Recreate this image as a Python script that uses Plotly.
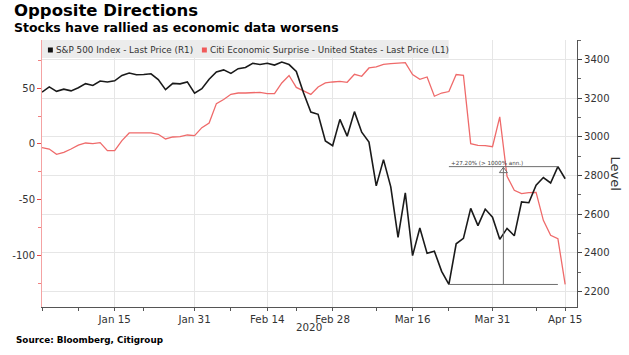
import plotly.graph_objects as go

# ---------------- data ----------------
dates = [
    "2019-12-31",
    "2020-01-02", "2020-01-03", "2020-01-06", "2020-01-07", "2020-01-08", "2020-01-09", "2020-01-10",
    "2020-01-13", "2020-01-14", "2020-01-15", "2020-01-16", "2020-01-17", "2020-01-21", "2020-01-22",
    "2020-01-23", "2020-01-24", "2020-01-27", "2020-01-28", "2020-01-29", "2020-01-30", "2020-01-31",
    "2020-02-03", "2020-02-04", "2020-02-05", "2020-02-06", "2020-02-07", "2020-02-10", "2020-02-11",
    "2020-02-12", "2020-02-13", "2020-02-14", "2020-02-18", "2020-02-19", "2020-02-20", "2020-02-21",
    "2020-02-24", "2020-02-25", "2020-02-26", "2020-02-27", "2020-02-28",
    "2020-03-02", "2020-03-03", "2020-03-04", "2020-03-05", "2020-03-06", "2020-03-09", "2020-03-10",
    "2020-03-11", "2020-03-12", "2020-03-13", "2020-03-16", "2020-03-17", "2020-03-18", "2020-03-19",
    "2020-03-20", "2020-03-23", "2020-03-24", "2020-03-25", "2020-03-26", "2020-03-27", "2020-03-30",
    "2020-03-31",
    "2020-04-01", "2020-04-02", "2020-04-03", "2020-04-06", "2020-04-07", "2020-04-08", "2020-04-09",
    "2020-04-13", "2020-04-14", "2020-04-15",
]

spx = [
    3230.8,
    3257.9, 3234.9, 3246.3, 3237.2, 3253.1, 3274.7, 3265.4,
    3288.1, 3283.2, 3289.3, 3316.8, 3329.6, 3320.8, 3321.8,
    3325.5, 3295.5, 3243.6, 3276.2, 3273.4, 3283.7, 3225.5,
    3248.9, 3297.6, 3334.7, 3345.8, 3327.7, 3352.1, 3357.8,
    3379.5, 3373.9, 3380.2, 3370.3, 3386.2, 3373.2, 3337.8,
    3225.9, 3128.2, 3116.4, 2978.8, 2954.2,
    3090.2, 3003.4, 3130.1, 3023.9, 2972.4, 2746.6, 2882.2,
    2741.4, 2480.6, 2711.0, 2386.1, 2529.2, 2398.1, 2409.4,
    2304.9, 2237.4, 2447.3, 2475.6, 2630.1, 2541.5, 2626.7,
    2584.6,
    2470.5, 2526.9, 2488.7, 2663.7, 2659.4, 2750.0, 2789.8,
    2761.6, 2846.0, 2783.4,
]

citi = [
    -3.3,
    -4.5, -9.3, -7.5, -4.5, -1.0, 0.9, 0.3,
    1.2, -6.0, -6.0, 3.0, 9.9, 9.9, 9.6,
    9.9, 8.7, 4.5, 6.3, 6.6, 8.1, 7.5,
    14.7, 18.9, 36.3, 39.9, 44.6, 45.8, 45.8,
    45.8, 46.4, 45.2, 45.2, 54.8, 61.5, 50.8,
    47.5, 44.6, 51.2, 54.8, 55.7,
    56.3, 55.4, 62.6, 60.8, 68.3, 69.2, 71.6,
    72.2, 72.8, 73.1, 62.4, 58.1, 60.2, 42.9,
    45.8, 47.1, 62.4, 61.7, 0.3, -1.2, -1.5,
    -2.4,
    24.3, -29.0, -41.6, -44.6, -43.7, -43.4, -68.6,
    -82.0, -85.0, -126.0,
]

tick_dates = ["2020-01-15", "2020-01-31", "2020-02-14", "2020-02-28",
              "2020-03-16", "2020-03-31", "2020-04-15"]
tick_labels = ["Jan 15", "Jan 31", "Feb 14", "Feb 28", "Mar 16", "Mar 31", "Apr 15"]
minor_tick_dates = ["2019-12-31", "2020-01-08", "2020-01-22", "2020-02-07",
                    "2020-02-21", "2020-03-09", "2020-03-23", "2020-04-08"]

spx_name = "S&P 500 Index - Last Price (R1)"
citi_name = "Citi Economic Surprise - United States - Last Price (L1)"

# ---------------- layout constants ----------------
W, H = 629, 355
ML, MR, MT, MB = 35, 52, 40, 48
PW, PH = W - ML - MR, H - MT - MB


def px_x(p):
    return (p - ML) / PW


def px_y(p):
    return (H - MB - p) / PH


FONT = "DejaVu Sans"
BLACK = "#1a1a1a"
RED = "#ef6a6a"
GRID = "#e6e6e6"

x = list(range(len(dates)))
major_x = [dates.index(d) for d in tick_dates]
minor_x = [dates.index(d) for d in minor_tick_dates]

fig = go.Figure()
fig.add_trace(go.Scatter(x=x, y=citi, mode="lines", name=citi_name,
                         line=dict(color=RED, width=1.3), yaxis="y",
                         showlegend=False, hoverinfo="skip"))
fig.add_trace(go.Scatter(x=x, y=spx, mode="lines", name=spx_name,
                         line=dict(color=BLACK, width=1.6), yaxis="y2",
                         showlegend=False, hoverinfo="skip"))

# --- rally annotation (computed from data) ---
i_lo = spx.index(min(spx))
i_hi = max(range(i_lo, len(spx)), key=lambda i: spx[i])
lo, hi = spx[i_lo], spx[i_hi]
pct = (hi / lo - 1) * 100
x_mid = (i_lo + i_hi) / 2 + 0.0
ann_col = "#6e6e6e"
for (xa, ya, xb, yb) in [(i_lo, lo, i_hi, lo), (i_lo, hi, i_hi, hi), (x_mid, lo, x_mid, hi)]:
    fig.add_shape(type="line", xref="x", yref="y2", x0=xa, y0=ya, x1=xb, y1=yb,
                  line=dict(color=ann_col, width=1))
fig.add_trace(go.Scatter(x=[x_mid], y=[hi - 22], mode="markers", yaxis="y2",
                         marker=dict(symbol="triangle-up", size=7, color="white",
                                     line=dict(color=ann_col, width=1)),
                         showlegend=False, hoverinfo="skip"))
fig.add_annotation(x=i_lo, y=hi, xref="x", yref="y2", xanchor="left", yanchor="bottom",
                   text=f"+{pct:.2f}% (> 1000% ann.)", showarrow=False,
                   font=dict(family=FONT, size=5.6, color="#444"), yshift=-1)

# --- custom legend ---
fig.add_shape(type="rect", xref="paper", yref="paper", layer="above",
              x0=px_x(35), x1=px_x(447), y0=px_y(58), y1=px_y(40),
              fillcolor="#ececec", line=dict(width=0))
fig.add_shape(type="rect", xref="paper", yref="paper", layer="above",
              x0=px_x(41), x1=px_x(46), y0=px_y(52.5), y1=px_y(47.5),
              fillcolor="#111111", line=dict(width=0))
fig.add_shape(type="rect", xref="paper", yref="paper", layer="above",
              x0=px_x(197), x1=px_x(202), y0=px_y(52.5), y1=px_y(47.5),
              fillcolor="#f05a5a", line=dict(width=0))
for tx, txt in [(47.5, spx_name), (203.5, citi_name)]:
    fig.add_annotation(x=px_x(tx), y=px_y(50), xref="paper", yref="paper",
                       xanchor="left", yanchor="middle", text=txt, showarrow=False,
                       font=dict(family=FONT, size=8.8, color="#333"))

# --- titles / labels ---
fig.add_annotation(x=px_x(5), y=px_y(11), xref="paper", yref="paper", xanchor="left",
                   yanchor="middle", text="<b>Opposite Directions</b>", showarrow=False,
                   font=dict(family=FONT, size=16.5, color="#000"))
fig.add_annotation(x=px_x(5), y=px_y(28), xref="paper", yref="paper", xanchor="left",
                   yanchor="middle", text="<b>Stocks have rallied as economic data worsens</b>",
                   showarrow=False, font=dict(family=FONT, size=12.5, color="#000"))
fig.add_annotation(x=px_x(7), y=px_y(340), xref="paper", yref="paper", xanchor="left",
                   yanchor="middle", text="<b>Source: Bloomberg, Citigroup</b>",
                   showarrow=False, font=dict(family=FONT, size=8.8, color="#000"))
fig.add_annotation(x=px_x(617), y=px_y(174), xref="paper", yref="paper", xanchor="center",
                   yanchor="middle", text="Level", textangle=90, showarrow=False,
                   font=dict(family=FONT, size=13, color="#333"))
fig.add_annotation(x=px_x(305.5), y=px_y(327), xref="paper", yref="paper", xanchor="center",
                   yanchor="middle", text="2020", showarrow=False,
                   font=dict(family=FONT, size=10.3, color="#333"))

fig.update_layout(
    width=W, height=H,
    margin=dict(l=ML, r=MR, t=MT, b=MB),
    paper_bgcolor="white", plot_bgcolor="white",
    showlegend=False,
    font=dict(family=FONT, color="#333"),
    xaxis=dict(
        range=[0, 73.63], tickmode="array", tickvals=major_x, ticktext=tick_labels,
        showgrid=True, gridcolor=GRID, gridwidth=1, zeroline=False,
        showline=True, linecolor="#555", linewidth=1,
        ticks="outside", ticklen=3, tickcolor="#555",
        tickfont=dict(family=FONT, size=10.3, color="#333"),
        minor=dict(tickmode="array", tickvals=minor_x, ticks="outside", ticklen=3,
                   tickcolor="#555", showgrid=False),
        fixedrange=True,
    ),
    yaxis=dict(
        range=[-146.4, 93.4], tickmode="array", tickvals=[-100, -50, 0, 50],
        ticktext=["-100", "-50", "0", "50"],
        showgrid=False, zeroline=False,
        showline=True, linecolor="#f4a3a3", linewidth=1,
        ticks="outside", ticklen=4, tickcolor="#e84c4c",
        tickfont=dict(family=FONT, size=10, color="#333"),
        minor=dict(dtick=25, tick0=0, ticks="outside", ticklen=3, tickcolor="#f08080",
                   showgrid=False),
        fixedrange=True,
    ),
    yaxis2=dict(
        range=[2121, 3500], overlaying="y", side="right",
        tick0=2200, dtick=200,
        showgrid=True, gridcolor=GRID, gridwidth=1, zeroline=False,
        showline=True, linecolor="#555", linewidth=1.2,
        ticks="outside", ticklen=4, tickcolor="#444",
        tickfont=dict(family=FONT, size=10, color="#333"),
        minor=dict(dtick=100, tick0=2200, ticks="outside", ticklen=3, tickcolor="#666",
                   showgrid=False),
        fixedrange=True,
    ),
)

fig.write_html(
    "out.html",
    config={"displayModeBar": False},
    post_script="document.body.style.margin='0';document.body.style.padding='0';"
                "document.body.style.overflow='hidden';",
)
